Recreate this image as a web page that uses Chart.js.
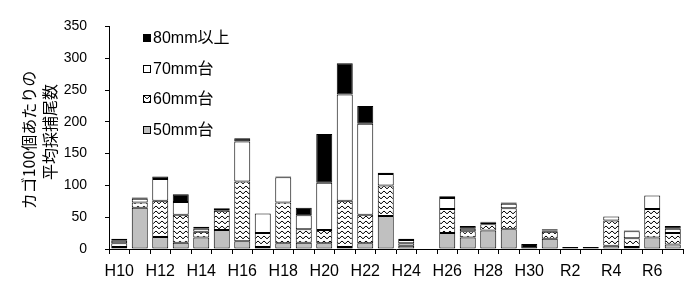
<!DOCTYPE html>
<html><head><meta charset="utf-8">
<script src="https://cdn.jsdelivr.net/npm/chart.js@4"></script>
<style>html,body{margin:0;padding:0;background:#fff}#wrap{width:698px;height:287px}</style>
</head><body><div id="wrap"><canvas id="c" width="698" height="287"></canvas></div>
<script>
const categories = ['H10','H11','H12','H13','H14','H15','H16','H17','H18','H19','H20','H21','H22','H23','H24','H25','H26','H27','H28','H29','H30','R1','R2','R3','R4','R5','R6','R7'];
const s50 = [3,65,19,10,18,30,12,3,9,10,9,3,9,52,5,0,25,18,29,31,0,16,0,0,5,3,18,7];
const s60 = [6,8,57,44,9,30,94,22,64,21,21,73,45,48,4,0,38,10,10,33,0,11,0,0,40,14,45,18];
const s70 = [4,6,34,20,5,3,63,31,40,22,74,167,143,18,5,0,17,4,3,7,0,2,0,0,6,11,21,7];
const s80 = [3,2,4,12,3,1,5,0,1,12,77,49,28,2,2,0,3,4,1,2,8,2,3,3,0,1,0,4];
const seriesNames = ['50mm台','60mm台','70mm台','80mm以上'];
const yTitle = ['カゴ100個あたりの','平均採捕尾数'];

// zigzag pattern
const pc = document.createElement('canvas');
pc.width = 6; pc.height = 5;
const px = pc.getContext('2d');
px.fillStyle = '#fff'; px.fillRect(0,0,6,5);
px.strokeStyle = '#000'; px.lineWidth = 1;
px.beginPath(); px.moveTo(0,1); px.lineTo(3,3.8); px.lineTo(6,1); px.stroke();
const ctx0 = document.getElementById('c').getContext('2d');
const zig = ctx0.createPattern(pc,'repeat');

const fills = ['#c0c0c0', zig, '#ffffff', '#000000'];
const dataArr = [s50, s60, s70, s80];

const FONT = "'Liberation Sans','Noto Sans CJK JP',sans-serif";

const overlay = {
  id:'overlay',
  afterDraw(chart){
    const c = chart.ctx;
    c.save();
    c.fillStyle = '#000';
    c.font = "16px 'Noto Sans CJK JP','Liberation Sans',sans-serif";
    c.textAlign = 'center'; c.textBaseline = 'middle';
    const tx = [29, 50], ty = [140, 132];
    for (let i=0;i<2;i++){
      c.save(); c.translate(tx[i], ty[i]); c.rotate(-Math.PI/2);
      c.fillText(yTitle[i], 0, 0); c.restore();
    }
    const order = [3,2,1,0];
    const ys = [38, 69, 99, 130];
    c.font = "16px " + FONT;
    c.textAlign = 'left';
    order.forEach((d,k)=>{
      const y = ys[k];
      c.fillStyle = fills[d];
      c.fillRect(143, y-4, 8, 8);
      c.strokeStyle = '#000'; c.lineWidth = 1;
      c.strokeRect(143.5, y-3.5, 7, 7);
      c.fillStyle = '#000';
      c.fillText(seriesNames[d], 153, y+1);
    });
    c.restore();
  }
};

new Chart(ctx0, {
  type:'bar',
  data:{
    labels: categories,
    datasets: dataArr.map((d,i)=>({
      label: seriesNames[i], data: d, backgroundColor: fills[i],
      borderColor:'#000', borderWidth:1, borderSkipped:false,
      barPercentage:0.78, categoryPercentage:1
    }))
  },
  options:{
    responsive:false, animation:false,
    layout:{padding:{top:15,right:15,left:0,bottom:0}},
    plugins:{legend:{display:false}, tooltip:{enabled:false}},
    scales:{
      x:{
        stacked:true,
        afterFit(s){ s.height = 38; },
        grid:{offset:true, drawOnChartArea:false, drawTicks:true, tickLength:5, color:'#000'},
        border:{display:true, color:'#000', width:1},
        ticks:{autoSkip:false, maxRotation:0, padding:8, color:'#000', font:{family:FONT, size:16},
          callback:(v,i)=> i%2===0 ? categories[i] : ''}
      },
      y:{
        stacked:true, min:0, max:350,
        afterFit(s){ s.width = 109; },
        grid:{drawOnChartArea:false, drawTicks:true, tickLength:4, color:'#000'},
        border:{display:true, color:'#000', width:1},
        ticks:{stepSize:50, padding:18, color:'#000', font:{family:FONT, size:14}}
      }
    }
  },
  plugins:[overlay]
});
</script></body></html>
